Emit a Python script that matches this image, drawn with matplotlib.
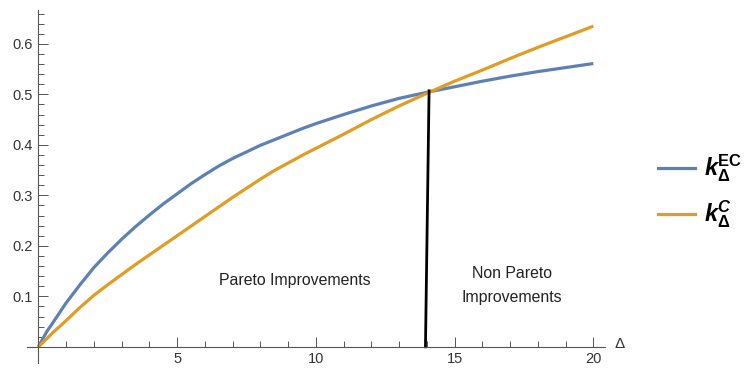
"""
Pareto improvement region: k_Delta^EC vs k_Delta^C.
"""

import matplotlib
matplotlib.use("Agg")
import matplotlib.pyplot as plt
from matplotlib.lines import Line2D
from matplotlib.ticker import FixedLocator

plt.rcParams["font.family"] = ["Liberation Sans", "DejaVu Sans"]
plt.rcParams["mathtext.fontset"] = "custom"
plt.rcParams["mathtext.rm"] = "Liberation Sans"
plt.rcParams["mathtext.it"] = "Liberation Sans:italic"
plt.rcParams["mathtext.bf"] = "Liberation Sans:bold"
plt.rcParams["mathtext.bfit"] = "Liberation Sans:bold:italic"

delta = [0, 0.3, 0.5, 1, 1.5, 2, 2.5, 3, 3.5, 4, 4.5, 5, 5.5, 6, 6.5, 7, 7.5, 8, 8.5,
         9, 9.5, 10, 11, 12, 13, 14, 15, 16, 17, 18, 19, 20]
k_ec = [0.0, 0.03, 0.046, 0.087, 0.123, 0.157, 0.186, 0.213, 0.238, 0.261, 0.283,
        0.303, 0.323, 0.341, 0.358, 0.373, 0.386, 0.399, 0.41, 0.421, 0.432,
        0.442, 0.46, 0.477, 0.492, 0.504, 0.515, 0.526, 0.536, 0.545, 0.553, 0.561]
k_c = [0.0, 0.016, 0.027, 0.052, 0.078, 0.102, 0.123, 0.143, 0.163, 0.182, 0.201,
       0.22, 0.239, 0.258, 0.277, 0.296, 0.314, 0.332, 0.349, 0.364, 0.379,
       0.393, 0.421, 0.45, 0.477, 0.502, 0.526, 0.548, 0.571, 0.593, 0.614, 0.635]

# boundary between the two regions
split_x = [13.95, 14.08]
split_y = [0.0, 0.507]

BLUE = "#5E81B5"
ORANGE = "#E19C24"
AXIS = "#555555"

fig = plt.figure(figsize=(7.44, 3.69), dpi=100)
ax = fig.add_axes([27 / 744, 1 - 363 / 369, (605 - 27) / 744, (363 - 10) / 369])

ax.plot(delta, k_ec, color=BLUE, lw=2.3, solid_capstyle="butt", solid_joinstyle="round")
ax.plot(delta, k_c, color=ORANGE, lw=2.3, solid_capstyle="butt", solid_joinstyle="round")
ax.plot(split_x, split_y, color="black", lw=2.0)

ax.set_xlim(-0.41, 20.42)
ax.set_ylim(-0.032, 0.667)

for side in ["top", "right"]:
    ax.spines[side].set_visible(False)
for side in ["left", "bottom"]:
    ax.spines[side].set_position(("data", 0))
    ax.spines[side].set_color(AXIS)
    ax.spines[side].set_linewidth(0.8)

ax.xaxis.set_major_locator(FixedLocator([5, 10, 15, 20]))
ax.xaxis.set_minor_locator(FixedLocator([x for x in range(1, 21) if x % 5]))
ax.yaxis.set_major_locator(FixedLocator([0.1, 0.2, 0.3, 0.4, 0.5, 0.6]))
ax.yaxis.set_minor_locator(FixedLocator([i * 0.02 for i in range(1, 34) if i % 5]))
ax.tick_params(which="both", direction="in", color=AXIS, width=0.7,
               labelsize=10.5, labelcolor="#333333")
ax.tick_params(which="major", length=7, pad=4)
ax.tick_params(which="minor", length=4)
ax.set_yticklabels(["0.1", "0.2", "0.3", "0.4", "0.5", "0.6"])

ax.text(20.75, 0.006, "Δ", fontsize=11, color="#333333", ha="left", va="center",
        clip_on=False)

ax.text(9.24, 0.132, "Pareto Improvements", fontsize=11.4, color="#222222",
        ha="center", va="center")
ax.text(17.06, 0.122, "Non Pareto\nImprovements", fontsize=11.4, color="#222222",
        ha="center", va="center", linespacing=1.75)

# legend drawn by hand to sit where the reference has it
legend_y = [1 - 168 / 369, 1 - 214 / 369]
labels = [r"$\mathbfit{k}_{\mathbf{\Delta}}^{\mathbf{EC}}$",
          r"$\mathbfit{k}_{\mathbf{\Delta}}^{\mathbfit{C}}$"]
for y, color, label in zip(legend_y, [BLUE, ORANGE], labels):
    fig.add_artist(Line2D([658 / 744, 695 / 744], [y, y], color=color, lw=2.3,
                          transform=fig.transFigure))
    fig.text(704 / 744, y, label, fontsize=17, ha="left", va="center")

fig.savefig("out.png", dpi=100)
